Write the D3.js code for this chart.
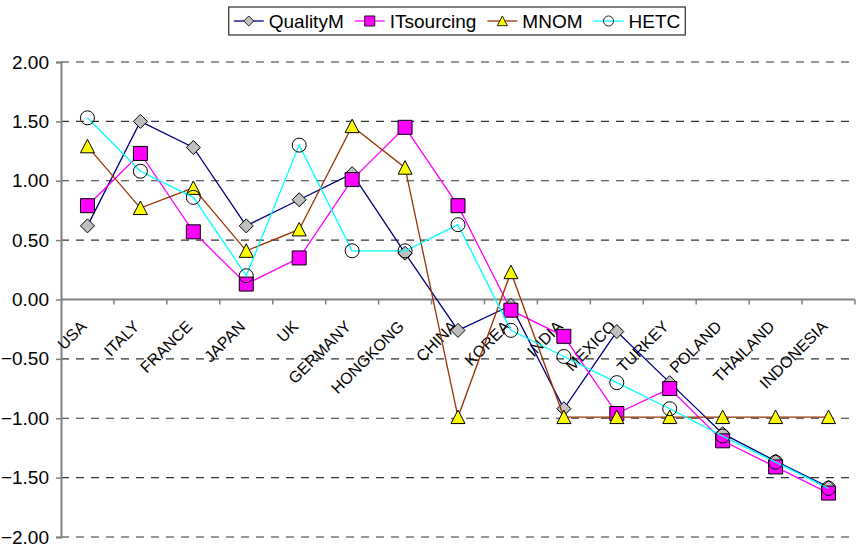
<!DOCTYPE html>
<html>
<head>
<meta charset="utf-8">
<script src="https://cdn.jsdelivr.net/npm/d3@7"></script>
<style>
  body { margin: 0; background: #fff; }
  text { font-family: "Liberation Sans", Arial, sans-serif; fill: #000; }
</style>
</head>
<body>
<div id="chart"></div>
<script>
// categories and the four series
var categories = ["USA", "ITALY", "FRANCE", "JAPAN", "UK", "GERMANY", "HONGKONG", "CHINA",
                  "KOREA", "INDIA", "MEXICO", "TURKEY", "POLAND", "THAILAND", "INDONESIA"];
var qualityM   = [0.62, 1.50, 1.28, 0.62, 0.84, 1.06, 0.39, -0.26, -0.05, -0.92, -0.27, -0.70, -1.13, -1.36, -1.58];
var itSourcing = [0.79, 1.23, 0.57, 0.13, 0.35, 1.01, 1.45, 0.79, -0.09, -0.31, -0.96, -0.75, -1.19, -1.41, -1.63];
var mnom       = [1.29, 0.77, 0.94, 0.41, 0.59, 1.46, 1.11, -0.99, 0.23, -0.99, -0.99, -0.99, -0.99, -0.99, -0.99];
var hetc       = [1.53, 1.08, 0.86, 0.20, 1.30, 0.41, 0.41, 0.63, -0.26, -0.48, -0.70, -0.92, -1.15, -1.37, -1.59];
var yTicks     = [-2, -1.5, -1, -0.5, 0, 0.5, 1, 1.5, 2];

var seriesNames = ["QualityM", "ITsourcing", "MNOM", "HETC"];
var seriesValues = [qualityM, itSourcing, mnom, hetc];

var W = 856, H = 551;
var m = { left: 61, right: 1, top: 62, bottom: 14 };

var svg = d3.select("#chart").append("svg")
  .attr("width", W).attr("height", H);

var x = d3.scaleBand().domain(categories).range([m.left, W - m.right]);
var y = d3.scaleLinear().domain([-2, 2]).range([H - m.bottom, m.top]);

// marker shapes, Excel style
var markers = {
  diamond: "M0,-7L7,0L0,7L-7,0Z",
  square: "M-7,-7H7V7H-7Z",
  triangle: "M0,-7L7,6.5L-7,6.5Z",
  circle: d3.arc()({ innerRadius: 0, outerRadius: 7, startAngle: 0, endAngle: 2 * Math.PI })
};
var styles = [
  { line: "#000080", fill: "#c0c0c0", shape: "diamond" },
  { line: "#ff00ff", fill: "#ff00ff", shape: "square" },
  { line: "#993300", fill: "#ffff00", shape: "triangle" },
  { line: "#00ffff", fill: "none", shape: "circle" }
];

// dashed gridlines
svg.append("g").selectAll("line")
  .data(yTicks.filter(function(d) { return d !== 0; }))
  .enter().append("line")
  .attr("x1", m.left).attr("x2", W - m.right)
  .attr("y1", function(d) { return y(d); }).attr("y2", function(d) { return y(d); })
  .attr("stroke", "#333").attr("stroke-width", 1.2)
  .attr("stroke-dasharray", "8,7");

// y axis
var yAxis = svg.append("g")
  .attr("transform", "translate(" + m.left + ",0)")
  .call(d3.axisLeft(y).tickValues(yTicks).tickFormat(d3.format(".2f")).tickSize(5).tickPadding(7));
yAxis.select(".domain").attr("stroke", "#808080").attr("stroke-width", 2);
yAxis.selectAll(".tick line").attr("stroke", "#808080").attr("stroke-width", 1.5);
yAxis.selectAll("text").style("font-size", "19px").attr("fill", "#000");

// x axis through zero, ticks between categories
var xAxis = svg.append("g").attr("transform", "translate(0," + y(0) + ")");
xAxis.append("line")
  .attr("x1", m.left).attr("x2", W - m.right)
  .attr("stroke", "#808080").attr("stroke-width", 2);
xAxis.selectAll(".xt")
  .data(categories)
  .enter().append("line")
  .attr("class", "xt")
  .attr("x1", function(d) { return x(d) + x.bandwidth(); })
  .attr("x2", function(d) { return x(d) + x.bandwidth(); })
  .attr("y1", 0).attr("y2", 5)
  .attr("stroke", "#808080").attr("stroke-width", 1.5);
xAxis.selectAll(".xl")
  .data(categories)
  .enter().append("text")
  .attr("class", "xl")
  .attr("text-anchor", "end")
  .style("font-size", "16px")
  .attr("transform", function(d) {
    return "translate(" + (x(d) + x.bandwidth() / 2) + ",28) rotate(-45)";
  })
  .text(function(d) { return d; });

// series
var line = d3.line()
  .x(function(d, i) { return x(categories[i]) + x.bandwidth() / 2; })
  .y(function(d) { return y(d); });

seriesValues.forEach(function(vals, s) {
  var st = styles[s];
  var g = svg.append("g");
  g.append("path")
    .attr("d", line(vals))
    .attr("fill", "none")
    .attr("stroke", st.line)
    .attr("stroke-width", 1.3);
  g.selectAll("path.mk")
    .data(vals)
    .enter().append("path")
    .attr("class", "mk")
    .attr("d", markers[st.shape])
    .attr("transform", function(d, i) {
      return "translate(" + (x(categories[i]) + x.bandwidth() / 2) + "," + y(d) + ")";
    })
    .attr("fill", st.fill)
    .attr("stroke", "#000")
    .attr("stroke-width", 1);
});

// legend
var legend = svg.append("g");
var box = legend.append("rect")
  .attr("fill", "#fff").attr("stroke", "#000").attr("stroke-width", 1);
var lx = 0;
seriesNames.forEach(function(name, s) {
  var st = styles[s];
  var item = legend.append("g").attr("transform", "translate(" + lx + ",0)");
  item.append("line")
    .attr("x1", 0).attr("x2", 30)
    .attr("stroke", st.line).attr("stroke-width", 1.3);
  item.append("path")
    .attr("d", markers[st.shape])
    .attr("transform", "translate(15,0) scale(0.72)")
    .attr("fill", st.fill).attr("stroke", "#000").attr("stroke-width", 1.2);
  var t = item.append("text")
    .attr("x", 35).attr("dy", "0.35em")
    .style("font-size", "19px")
    .text(name);
  lx += 35 + t.node().getComputedTextLength() + 11;
});
var legendW = lx - 11;
var lx0 = 457 - legendW / 2;
legend.attr("transform", "translate(" + lx0 + ",21)");
box.attr("x", -5).attr("y", -14).attr("width", legendW + 10).attr("height", 28);
</script>
</body>
</html>
